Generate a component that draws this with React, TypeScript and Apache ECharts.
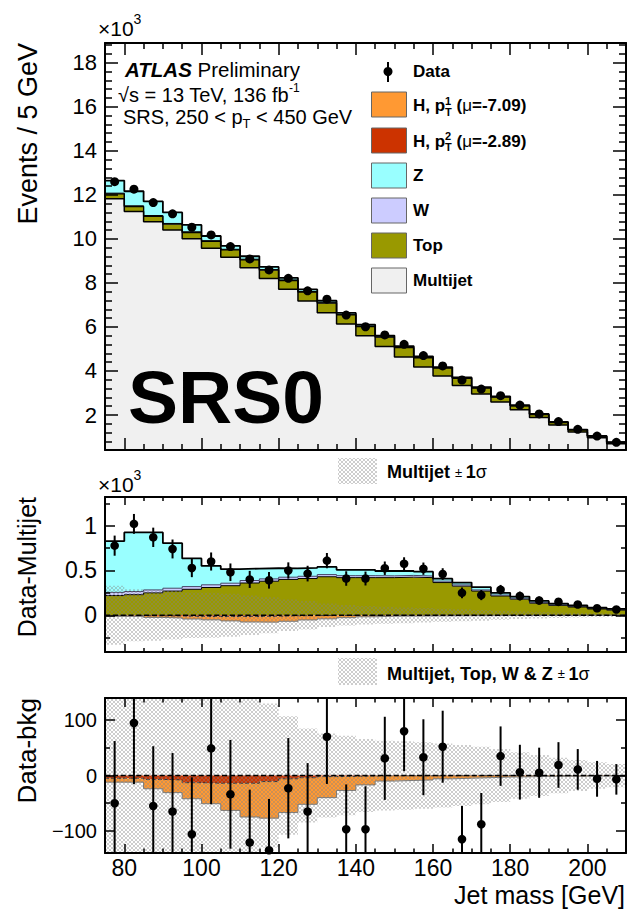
import React, { useEffect, useRef } from "react";
import * as echarts from "echarts";

// ---------- data ----------
const binEdges = [75, 80, 85, 90, 95, 100, 105, 110, 115, 120, 125, 130, 135, 140, 145, 150, 155, 160, 165, 170, 175, 180, 185, 190, 195, 200, 205, 210];
const dataEvents = [12600, 12260, 11650, 11140, 10530, 10180, 9650, 9090, 8590, 8210, 7640, 7260, 6540, 6010, 5640, 5210, 4700, 4230, 3590, 3180, 2880, 2450, 2050, 1700, 1350, 1045, 760];
const multijet = [11823, 11240, 10780, 10400, 10002, 9580, 9170, 8690, 8200, 7710, 7175, 6650, 6130, 5600, 5115, 4635, 4180, 3770, 3340, 2955, 2595, 2235, 1885, 1550, 1230, 967, 695];
const topQuark = [220, 230, 250, 270, 290, 310, 330, 360, 380, 400, 410, 430, 420, 420, 420, 425, 420, 365, 325, 270, 215, 180, 135, 110, 92, 70, 58];
const wBoson = [35, 35, 33, 32, 30, 30, 28, 28, 26, 25, 25, 24, 22, 22, 20, 20, 18, 16, 14, 13, 11, 10, 8, 7, 6, 5, 4];
const zBoson = [572, 660, 642, 503, 314, 211, 156, 133, 119, 98, 95, 86, 65, 65, 54, 50, 49, 27, 26, 30, 24, 19, 17, 14, 11, 9, 10];
const higgsPt1 = [-7, -7, -17, -23, -29, -37, -49, -61, -66, -61, -48, -38, -25.5, -16, -9.5, -8.5, -7.5, -5.5, -4.5, -3.5, -2.5, -2, -1.5, -1.2, -1, -0.8, -0.6];
const higgsPt2 = [-5, -5, -7, -8, -13, -14, -14, -14, -11, -6, -4, -2, -1.5, -1, -0.5, -0.5, -0.5, -0.5, -0.4, -0.4, -0.3, -0.3, -0.2, -0.2, -0.2, -0.1, -0.1];
const sigmaMultijet = [330, 290, 285, 270, 255, 250, 240, 220, 200, 175, 160, 130, 115, 104, 95, 88, 80, 72, 67, 60, 50, 42, 36, 30, 26, 22, 19];
const sigmaAllBkg = [200, 190, 180, 170, 165, 160, 155, 145, 130, 107, 85, 76, 72, 66, 63, 62, 60, 58, 55, 52, 48, 42, 37, 32, 28, 24, 21];

// tick labels
const xMajorTicks = [80, 100, 120, 140, 160, 180, 200];
const yTicksTop = [2, 4, 6, 8, 10, 12, 14, 16, 18];
const yTicksMid = [0, 0.5, 1];
const yTicksBot = [-100, 0, 100];
const yMinorMid = [-0.25, 0.25, 0.75, 1.25];
const yMinorBot = [-50, 50];

const FONT = "'Liberation Sans', Arial, Helvetica, sans-serif";

let measureCtx: CanvasRenderingContext2D | null = null;
function measure(t: string, size: number, bold?: boolean, italic?: boolean) {
  if (!measureCtx) measureCtx = document.createElement("canvas").getContext("2d");
  const ctx = measureCtx!;
  ctx.font = `${italic ? "italic " : ""}${bold ? "bold " : ""}${size}px ${FONT}`;
  return ctx.measureText(t).width;
}

function hatchPattern(): any {
  const c = document.createElement("canvas");
  c.width = 4;
  c.height = 4;
  const ctx = c.getContext("2d")!;
  ctx.fillStyle = "rgba(130,130,130,0.4)";
  for (let i = 0; i < 4; i++) {
    ctx.fillRect(i, i, 1, 1);
    ctx.fillRect(i, 3 - i, 1, 1);
  }
  return { image: c, repeat: "repeat", imageWidth: 4, imageHeight: 4 };
}

type Part = { t: string; size: number; bold?: boolean; italic?: boolean; dy?: number; hold?: boolean };
function run(x0: number, cy: number, parts: Part[]) {
  const els: any[] = [];
  let x = x0;
  let holdW = 0;
  for (const p of parts) {
    const w = measure(p.t, p.size, p.bold, p.italic);
    els.push({
      type: "text",
      x,
      y: cy + (p.dy || 0),
      z: 100,
      silent: true,
      style: {
        text: p.t,
        fill: "#000",
        fontSize: p.size,
        fontWeight: p.bold ? "bold" : "normal",
        fontStyle: p.italic ? "italic" : "normal",
        fontFamily: FONT,
        align: "left",
        verticalAlign: "middle",
      },
    });
    if (p.hold) holdW = Math.max(holdW, w);
    else {
      x += Math.max(w, holdW);
      holdW = 0;
    }
  }
  return els;
}

function buildOption() {
  const X_MIN = binEdges[0];
  const X_MAX = binEdges[binEdges.length - 1];
  const nBins = binEdges.length - 1;
  const binCenters = binEdges.slice(0, -1).map((e, i) => (e + binEdges[i + 1]) / 2);
  const xMinorTicks: number[] = [];
  for (let v = X_MIN; v <= X_MAX; v += 5) if (!xMajorTicks.includes(v)) xMinorTicks.push(v);
  const yMinorTop: number[] = [];
  for (let k = 1; k <= 47; k++) if (k % 5 !== 0) yMinorTop.push(Math.round(k * 4) / 10);

  const grids = [
    { top: 43, height: 407 },
    { top: 497, height: 155 },
    { top: 698, height: 155 },
  ];
  const yRanges = [
    [0.41, 18.9],
    [-0.41, 1.32],
    [-140, 140],
  ];
  const yMajor = [yTicksTop, yTicksMid, yTicksBot];
  const yMinor = [yMinorTop, yMinorMid, yMinorBot];
  const tickLen = [
    { xM: 12, xm: 6, yM: 13, ym: 7 },
    { xM: 8, xm: 4, yM: 10, ym: 5 },
    { xM: 9, xm: 4.5, yM: 10, ym: 5 },
  ];
  const yLabelSize = [22, 23, 20];
  const yFmt = [
    (v: number) => String(v),
    (v: number) => String(v),
    (v: number) => (v < 0 ? "\u2212" + -v : String(v)),
  ];

  const xAxis: any[] = [];
  const yAxis: any[] = [];
  const mkX = (g: number, pos: string, ticks: number[], len: number, line: boolean, labels: boolean) => ({
    type: "value",
    gridIndex: g,
    position: pos,
    min: X_MIN,
    max: X_MAX,
    z: 10,
    axisLine: { show: line, onZero: false, lineStyle: { color: "#000", width: 2 } },
    axisTick: { show: true, inside: true, length: len, customValues: ticks, lineStyle: { color: "#000", width: 1.5 } },
    axisLabel: labels
      ? { show: true, customValues: ticks, color: "#000", fontSize: 23, fontFamily: FONT, margin: 3 }
      : { show: false },
    splitLine: { show: false },
  });
  const mkY = (g: number, pos: string, ticks: number[], len: number, line: boolean, labels: boolean) => ({
    type: "value",
    gridIndex: g,
    position: pos,
    min: yRanges[g][0],
    max: yRanges[g][1],
    z: 10,
    axisLine: { show: line, onZero: false, lineStyle: { color: "#000", width: 2 } },
    axisTick: { show: true, inside: true, length: len, customValues: ticks, lineStyle: { color: "#000", width: 1.5 } },
    axisLabel: labels
      ? {
          show: true,
          customValues: ticks,
          color: "#000",
          fontSize: yLabelSize[g],
          fontFamily: FONT,
          margin: 8,
          formatter: yFmt[g],
        }
      : { show: false },
    splitLine: { show: false },
  });
  for (let g = 0; g < 3; g++) {
    const L = tickLen[g];
    xAxis.push(mkX(g, "bottom", xMajorTicks, L.xM, true, g === 2));
    xAxis.push(mkX(g, "bottom", xMinorTicks, L.xm, false, false));
    xAxis.push(mkX(g, "top", xMajorTicks, L.xM, true, false));
    xAxis.push(mkX(g, "top", xMinorTicks, L.xm, false, false));
    yAxis.push(mkY(g, "left", yMajor[g], L.yM, true, true));
    yAxis.push(mkY(g, "left", yMinor[g], L.ym, false, false));
    yAxis.push(mkY(g, "right", yMajor[g], L.yM, true, false));
    yAxis.push(mkY(g, "right", yMinor[g], L.ym, false, false));
  }

  const ax = (g: number) => ({ xAxisIndex: 4 * g, yAxisIndex: 4 * g });

  const fill = (g: number, lower: number[], upper: number[], color: any, z: number) => ({
    type: "custom",
    ...ax(g),
    z,
    silent: true,
    data: [[X_MIN, 0]],
    renderItem: (_p: any, api: any) => {
      const [ymin, ymax] = yRanges[g];
      const cl = (v: number) => Math.min(ymax, Math.max(ymin, v));
      const pts: number[][] = [];
      for (let i = 0; i < nBins; i++) {
        pts.push(api.coord([binEdges[i], cl(upper[i])]));
        pts.push(api.coord([binEdges[i + 1], cl(upper[i])]));
      }
      for (let i = nBins - 1; i >= 0; i--) {
        pts.push(api.coord([binEdges[i + 1], cl(lower[i])]));
        pts.push(api.coord([binEdges[i], cl(lower[i])]));
      }
      return { type: "polygon", shape: { points: pts }, style: { fill: color } };
    },
  });
  const outline = (g: number, vals: number[], line: any, z = 3) => ({
    type: "line",
    ...ax(g),
    step: "end",
    symbol: "none",
    showSymbol: false,
    data: binEdges.map((e, i) => [e, vals[Math.min(i, nBins - 1)]]),
    lineStyle: line,
    clip: true,
    silent: true,
    emphasis: { disabled: true },
    z,
  });
  const zeroLine = (g: number) => ({
    type: "line",
    ...ax(g),
    data: [
      [X_MIN, 0],
      [X_MAX, 0],
    ],
    symbol: "none",
    silent: true,
    lineStyle: { color: "#000", width: 1.3, type: "dashed" },
    z: 5,
  });
  const points = (g: number, vals: number[], errs: number[], r: number) => {
    const [ymin, ymax] = yRanges[g];
    return {
      type: "custom",
      ...ax(g),
      z: 6,
      silent: true,
      data: binCenters.map((c, i) => [c, vals[i], errs[i]]),
      renderItem: (_p: any, api: any) => {
        const x = api.value(0);
        const y = api.value(1);
        const e = api.value(2);
        const lo = Math.max(ymin, y - e);
        const hi = Math.min(ymax, y + e);
        const p = api.coord([x, y]);
        const a = api.coord([x, lo]);
        const b = api.coord([x, hi]);
        return {
          type: "group",
          children: [
            { type: "line", shape: { x1: a[0], y1: a[1], x2: b[0], y2: b[1] }, style: { stroke: "#000", lineWidth: 2 } },
            { type: "circle", shape: { cx: p[0], cy: p[1], r }, style: { fill: "#000" } },
          ],
        };
      },
    };
  };

  const k = 1 / 1000;
  const add = (a: number[], b: number[]) => a.map((v, i) => v + b[i]);
  const scale = (a: number[], s: number) => a.map((v) => v * s);
  const zeros = binCenters.map(() => 0);
  const errs = dataEvents.map((d) => Math.sqrt(d));
  const dataMinusMultijet = dataEvents.map((d, i) => d - multijet[i]);
  const dataMinusBkg = dataEvents.map((d, i) => d - multijet[i] - topQuark[i] - wBoson[i] - zBoson[i]);
  const hatch = hatchPattern();

  const t0 = scale(multijet, k);
  const t1 = add(t0, scale(topQuark, k));
  const t2 = add(t1, scale(wBoson, k));
  const t3 = add(t2, scale(zBoson, k));
  const m1 = scale(topQuark, k);
  const m2 = add(m1, scale(wBoson, k));
  const m3 = add(m2, scale(zBoson, k));
  const mh2 = scale(higgsPt2, k);
  const mh1 = add(mh2, scale(higgsPt1, k));
  const bh2 = higgsPt2;
  const bh1 = add(higgsPt2, higgsPt1);

  const black = (w: number) => ({ color: "#000", width: w });
  const series: any[] = [
    // top panel
    fill(0, zeros, t0, "#f0f0f0", 2),
    fill(0, t0, t1, "#999900", 2),
    fill(0, t1, t2, "#ccccff", 2),
    fill(0, t2, t3, "#99ffff", 2),
    outline(0, t0, black(1.5)),
    outline(0, t1, black(1.3)),
    outline(0, t2, black(1)),
    outline(0, t3, black(1.8)),
    points(0, scale(dataEvents, k), scale(errs, k), 4.5),
    // middle panel
    fill(1, zeros, m1, "#999900", 2),
    fill(1, m1, m2, "#ccccff", 2),
    fill(1, m2, m3, "#99ffff", 2),
    fill(1, zeros, mh2, "#cc3300", 2),
    fill(1, mh2, mh1, "#ff9933", 2),
    outline(1, m1, black(1)),
    outline(1, m2, { color: "#444466", width: 1 }),
    outline(1, m3, black(1.8)),
    outline(1, mh2, { color: "#333", width: 1, type: "dashed" }),
    outline(1, mh1, { color: "#777", width: 1 }),
    fill(1, scale(sigmaMultijet, -k), scale(sigmaMultijet, k), hatch, 4),
    zeroLine(1),
    points(1, scale(dataMinusMultijet, k), scale(errs, k), 4.3),
    // bottom panel
    fill(2, zeros, bh2, "#cc3300", 2),
    fill(2, bh2, bh1, "#ff9933", 2),
    outline(2, bh2, { color: "#333", width: 1, type: "dashed" }),
    outline(2, bh1, { color: "#777", width: 1 }),
    fill(2, scale(sigmaAllBkg, -1), sigmaAllBkg, hatch, 4),
    zeroLine(2),
    points(2, dataMinusBkg, errs, 4.3),
  ];

  // ---------- graphic texts ----------
  const G: any[] = [];
  const LS = 17;
  G.push(...run(98, 28, [{ t: "\u00d710", size: 21 }, { t: "3", size: 14, dy: -9 }]));
  G.push(...run(98, 484, [{ t: "\u00d710", size: 21 }, { t: "3", size: 14, dy: -9 }]));
  G.push(...run(125, 69, [{ t: "ATLAS", size: 20.5, bold: true, italic: true }, { t: " Preliminary", size: 20.5 }]));
  G.push(...run(118, 95, [{ t: "\u221as = 13 TeV, 136 fb", size: 20 }, { t: "-1", size: 12, dy: -7 }]));
  G.push(
    ...run(123, 116.5, [
      { t: "SRS, 250 < p", size: 20 },
      { t: "T", size: 13, dy: 7 },
      { t: " < 450 GeV", size: 20 },
    ])
  );
  G.push(...run(128, 397, [{ t: "SRS0", size: 75, bold: true }]));

  // top legend
  G.push({ type: "line", z: 100, silent: true, shape: { x1: 388, y1: 62, x2: 388, y2: 82 }, style: { stroke: "#000", lineWidth: 2 } });
  G.push({ type: "circle", z: 100, silent: true, shape: { cx: 388, cy: 71.5, r: 4.5 }, style: { fill: "#000" } });
  G.push(...run(413, 71.5, [{ t: "Data", size: LS, bold: true }]));
  const legendBoxes = [
    { y: 92, color: "#ff9933" },
    { y: 128, color: "#cc3300" },
    { y: 163, color: "#99ffff" },
    { y: 198, color: "#ccccff" },
    { y: 233, color: "#999900" },
    { y: 268, color: "#f0f0f0" },
  ];
  for (const b of legendBoxes) {
    G.push({
      type: "rect",
      z: 100,
      silent: true,
      shape: { x: 371.5, y: b.y, width: 35, height: 25 },
      style: { fill: b.color, stroke: "#666", lineWidth: 1 },
    });
  }
  const hLabel = (cy: number, idx: string, mu: string) =>
    run(413, cy, [
      { t: "H, p", size: LS, bold: true },
      { t: idx, size: 11, bold: true, dy: -5, hold: true },
      { t: "T", size: 11, bold: true, dy: 6 },
      { t: " (", size: LS, bold: true },
      { t: "\u03bc", size: LS },
      { t: "=" + mu + ")", size: LS, bold: true },
    ]);
  G.push(...hLabel(105.5, "1", "-7.09"));
  G.push(...hLabel(141, "2", "-2.89"));
  G.push(...run(413, 175.5, [{ t: "Z", size: LS, bold: true }]));
  G.push(...run(413, 210.5, [{ t: "W", size: LS, bold: true }]));
  G.push(...run(413, 245.5, [{ t: "Top", size: LS, bold: true }]));
  G.push(...run(413, 280, [{ t: "Multijet", size: LS, bold: true }]));

  // band legends
  G.push({ type: "rect", z: 100, silent: true, shape: { x: 338, y: 458, width: 39, height: 26 }, style: { fill: hatch } });
  G.push(
    ...run(387, 472, [
      { t: "Multijet ", size: 18, bold: true },
      { t: "\u00b1 ", size: 13 },
      { t: "1", size: 18, bold: true },
      { t: "\u03c3", size: 18 },
    ])
  );
  G.push({ type: "rect", z: 100, silent: true, shape: { x: 338, y: 658, width: 39, height: 27 }, style: { fill: hatch } });
  G.push(
    ...run(387, 673.5, [
      { t: "Multijet, Top, W & Z ", size: 18, bold: true },
      { t: "\u00b1 ", size: 13 },
      { t: "1", size: 18, bold: true },
      { t: "\u03c3", size: 18 },
    ])
  );

  const vTitle = (text: string, x: number, yEnd: number, size: number) => ({
    type: "text",
    x,
    y: yEnd,
    rotation: Math.PI / 2,
    z: 100,
    silent: true,
    style: { text, fill: "#000", fontSize: size, fontFamily: FONT, align: "right", verticalAlign: "middle" },
  });
  G.push(vTitle("Events / 5 GeV", 28, 43, 27));
  G.push(vTitle("Data-Multijet", 27, 497, 25));
  G.push(vTitle("Data-bkg", 27, 698, 26));
  G.push({
    type: "text",
    x: 625,
    y: 895,
    z: 100,
    silent: true,
    style: { text: "Jet mass [GeV]", fill: "#000", fontSize: 25, fontFamily: FONT, align: "right", verticalAlign: "middle" },
  });

  return {
    animation: false,
    backgroundColor: "#fff",
    textStyle: { fontFamily: FONT },
    grid: grids.map((g) => ({
      left: 105,
      width: 521,
      top: g.top,
      height: g.height,
      containLabel: false,
      outerBoundsMode: "none",
    })),
    xAxis,
    yAxis,
    series,
    graphic: { elements: G },
  };
}

export default function App() {
  const ref = useRef<HTMLDivElement>(null);
  useEffect(() => {
    const chart = echarts.init(ref.current!, null, { renderer: "svg" });
    chart.setOption(buildOption() as any);
    return () => chart.dispose();
  }, []);
  return (
    <div
      ref={ref}
      style={{ position: "fixed", left: 0, top: 0, width: 627, height: 911, background: "#fff" }}
    />
  );
}
